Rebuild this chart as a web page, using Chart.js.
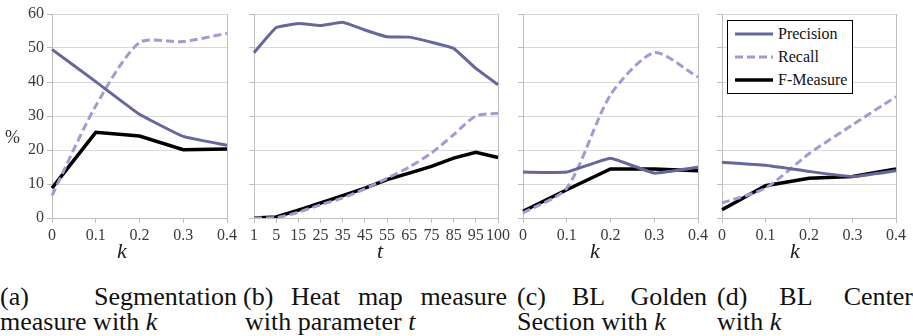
<!DOCTYPE html>
<html>
<head>
<meta charset="utf-8">
<script src="https://cdn.jsdelivr.net/npm/chart.js@4.4.1/dist/chart.umd.min.js"></script>
<style>
  body { margin: 0; background: #fff; font-family: 'Liberation Serif', 'Times New Roman', serif; }
  canvas { position: absolute; top: 0; }
  .ax { position: absolute; font-style: italic; font-size: 22px; color: #222; line-height: 1; transform: translate(-50%, -50%); }
  .pct { position: absolute; left: 5px; top: 127px; font-size: 18px; color: #333; }
  .cap { position: absolute; font-size: 26px; line-height: 25px; color: #111; }
  .l1 { text-align: justify; text-align-last: justify; }
  .legend { position: absolute; left: 727px; top: 20px; width: 124px; height: 72px; border: 1px solid #000; background: #fff; font-size: 16px; color: #111; }
  .row { position: absolute; left: 0; width: 124px; height: 20px; line-height: 20px; }
  .row svg { position: absolute; left: 5px; top: 4px; }
  .row span { position: absolute; left: 50px; white-space: nowrap; }
</style>
</head>
<body>
<canvas id="chA" width="247" height="262" style="left:0px"></canvas>
<canvas id="chB" width="281" height="262" style="left:237px"></canvas>
<canvas id="chC" width="212" height="262" style="left:506px"></canvas>
<canvas id="chD" width="207" height="262" style="left:706px"></canvas>

<div class="pct">%</div>
<div class="ax" style="left:122px;top:251px">k</div>
<div class="ax" style="left:380px;top:251px">t</div>
<div class="ax" style="left:595px;top:251px">k</div>
<div class="ax" style="left:795px;top:251px">k</div>

<div class="legend">
  <div class="row" style="top:3px"><svg width="44" height="12"><line x1="2" y1="6" x2="40" y2="6" stroke="#66679a" stroke-width="3"/></svg><span>Precision</span></div>
  <div class="row" style="top:26px"><svg width="44" height="12"><line x1="2" y1="6" x2="40" y2="6" stroke="#9d9dd3" stroke-width="3" stroke-dasharray="8 4"/></svg><span>Recall</span></div>
  <div class="row" style="top:49px"><svg width="44" height="12"><line x1="2" y1="6" x2="40" y2="6" stroke="#000" stroke-width="3.5"/></svg><span>F-Measure</span></div>
</div>

<div class="cap" style="left:0px;top:284px;width:237px"><div class="l1">(a) Segmentation</div><div>measure with <i>k</i></div></div>
<div class="cap" style="left:243px;top:284px;width:264px"><div class="l1">(b) Heat map measure</div><div style="padding-left:2px">with parameter <i>t</i></div></div>
<div class="cap" style="left:517px;top:284px;width:190px"><div class="l1">(c) BL Golden</div><div>Section with <i>k</i></div></div>
<div class="cap" style="left:717px;top:284px;width:196px"><div class="l1">(d) BL Center</div><div>with <i>k</i></div></div>

<script>
// valores
const kLabels = ["0", "0.1", "0.2", "0.3", "0.4"];
const tLabels = ["1", "5", "15", "25", "35", "45", "55", "65", "75", "85", "95", "100"];
const yTicks = [0, 10, 20, 30, 40, 50, 60];

// (a) segmentation
const precisionA = [49.6, 40.1, 30.5, 24.0, 21.4];
const recallA = [6.6, 33.0, 51.6, 51.9, 54.3];
const fMeasureA = [8.8, 25.2, 24.1, 20.1, 20.3];

// (b) heat map
const precisionB = [48.6, 56.0, 57.2, 56.6, 57.6, 55.3, 53.3, 53.2, 51.7, 49.9, 44.0, 39.2];
const recallB = [0, 0.1, 1.7, 3.9, 5.9, 8.6, 11.7, 15.0, 19.1, 24.5, 30.0, 30.8];
const fMeasureB = [0, 0.3, 2.3, 4.4, 6.6, 8.8, 11.3, 13.2, 15.2, 17.6, 19.3, 17.8];

// (c) golden section
const precisionC = [13.5, 13.5, 17.6, 13.2, 14.9];
const recallC = [1.5, 8.8, 36.2, 48.6, 41.4];
const fMeasureC = [2.0, 8.3, 14.4, 14.4, 13.9];

// (d) center
const precisionD = [16.4, 15.5, 13.7, 12.2, 13.9];
const recallD = [4.4, 8.8, 18.9, 27.4, 35.7];
const fMeasureD = [2.4, 9.5, 11.7, 12.2, 14.4];

const corPrecision = "#66679a";
const corRecall = "#9d9dd3";
const corF = "#000000";
const gridCor = "#d9d9d9";
const eixoCor = "#bdbdbd";
const fonte = "'Liberation Serif', 'Times New Roman', serif";

function criarPainel(id, labels, prec, rec, fm, yW, padRight, showY) {
  const last = labels.length - 1;
  new Chart(document.getElementById(id), {
    type: "line",
    data: {
      labels: labels,
      datasets: [
        { label: "Precision", data: prec, borderColor: corPrecision, borderWidth: 3, pointRadius: 0, tension: 0.1 },
        { label: "Recall", data: rec, borderColor: corRecall, borderWidth: 3, borderDash: [8, 4], pointRadius: 0, tension: 0.25 },
        { label: "F-Measure", data: fm, borderColor: corF, borderWidth: 3.5, pointRadius: 0, tension: 0 }
      ]
    },
    options: {
      responsive: false,
      animation: false,
      layout: { padding: { left: 0, right: padRight, top: 14, bottom: 0 } },
      plugins: { legend: { display: false }, tooltip: { enabled: false } },
      scales: {
        x: {
          grid: {
            color: (ctx) => (ctx.index === 0 || ctx.index === last) ? eixoCor : "transparent",
            tickColor: eixoCor,
            tickLength: 5
          },
          border: { color: eixoCor },
          ticks: {
            autoSkip: false,
            maxRotation: 0,
            padding: 3,
            color: "#3a3a3a",
            font: { family: fonte, size: 16 }
          },
          afterFit: (scale) => { scale.height = 44; }
        },
        y: {
          min: 0,
          max: 60,
          afterBuildTicks: (scale) => { scale.ticks = yTicks.map(v => ({ value: v })); },
          grid: { color: gridCor, tickColor: eixoCor, tickLength: 5 },
          border: { color: eixoCor },
          ticks: {
            display: showY,
            padding: 3,
            color: "#3a3a3a",
            font: { family: fonte, size: 16 }
          },
          afterFit: (scale) => { scale.width = yW; }
        }
      }
    }
  });
}

criarPainel("chA", kLabels, precisionA, recallA, fMeasureA, 52, 20, true);
criarPainel("chB", tLabels, precisionB, recallB, fMeasureB, 17, 20, false);
criarPainel("chC", kLabels, precisionC, recallC, fMeasureC, 17, 20, false);
criarPainel("chD", kLabels, precisionD, recallD, fMeasureD, 16, 17, false);
</script>
</body>
</html>
